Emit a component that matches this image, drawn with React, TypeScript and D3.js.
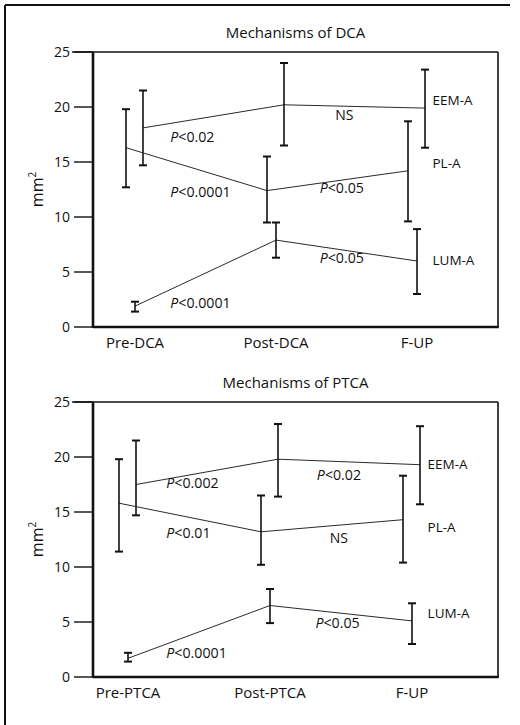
import React from "react";
import * as d3 from "d3";

// Time points and their axis labels
const stageIndex = [0, 1, 2];
const dcaStageLabels = ["Pre-DCA", "Post-DCA", "F-UP"];
const ptcaStageLabels = ["Pre-PTCA", "Post-PTCA", "F-UP"];
const yTicks = [0, 5, 10, 15, 20, 25];
const seriesNames = ["EEM-A", "PL-A", "LUM-A"];

// DCA: mean and error-bar limits (mm²)
const dcaEemMean = [18.1, 20.2, 19.9];
const dcaEemLow = [14.7, 16.5, 16.3];
const dcaEemHigh = [21.5, 24.0, 23.4];
const dcaPlMean = [16.3, 12.4, 14.2];
const dcaPlLow = [12.7, 9.5, 9.6];
const dcaPlHigh = [19.8, 15.5, 18.7];
const dcaLumMean = [1.9, 7.9, 6.0];
const dcaLumLow = [1.4, 6.3, 3.0];
const dcaLumHigh = [2.3, 9.5, 8.9];

// PTCA: mean and error-bar limits (mm²)
const ptcaEemMean = [17.5, 19.8, 19.3];
const ptcaEemLow = [14.7, 16.4, 15.7];
const ptcaEemHigh = [21.5, 23.0, 22.8];
const ptcaPlMean = [15.8, 13.2, 14.3];
const ptcaPlLow = [11.4, 10.2, 10.4];
const ptcaPlHigh = [19.8, 16.5, 18.3];
const ptcaLumMean = [1.7, 6.5, 5.1];
const ptcaLumLow = [1.4, 4.9, 3.0];
const ptcaLumHigh = [2.2, 8.0, 6.7];

// Significance of each interval, per series [EEM, PL, LUM]
const dcaPFirst = ["P<0.02", "P<0.0001", "P<0.0001"];
const dcaPSecond = ["NS", "P<0.05", "P<0.05"];
const ptcaPFirst = ["P<0.002", "P<0.01", "P<0.0001"];
const ptcaPSecond = ["P<0.02", "NS", "P<0.05"];

// Annotation anchors in data space (stage index, mm²), per series [EEM, PL, LUM]
const dcaPFirstAt = [[0.25, 16.8], [0.25, 11.8], [0.25, 1.7]];
const dcaPSecondAt = [[1.42, 18.8], [1.31, 12.2], [1.31, 5.8]];
const dcaNameAt = [[2.11, 20.2], [2.11, 14.5], [2.11, 5.6]];
const ptcaPFirstAt = [[0.27, 17.2], [0.27, 12.6], [0.27, 1.7]];
const ptcaPSecondAt = [[1.33, 17.9], [1.42, 12.2], [1.32, 4.5]];
const ptcaNameAt = [[2.11, 18.9], [2.11, 13.2], [2.11, 5.4]];

const FONT = "'Open Sans', 'DejaVu Sans', sans-serif";
const dodge = [8, -9, 0]; // horizontal offset of EEM, PL, LUM error bars

type Series = { mean: number[]; low: number[]; high: number[] };

function PValue({ text, x, y }: { text: string; x: number; y: number }) {
  if (text.startsWith("P")) {
    return (
      <text x={x} y={y} fontSize={14.2} fontFamily={FONT} fill="#111">
        <tspan fontStyle="italic">P</tspan>
        <tspan>{text.slice(1)}</tspan>
      </text>
    );
  }
  return (
    <text x={x} y={y} fontSize={14} fontFamily={FONT} fill="#111">
      {text}
    </text>
  );
}

function Panel(props: {
  title: string;
  stageLabels: string[];
  series: Series[];
  pFirst: string[];
  pSecond: string[];
  pFirstAt: number[][];
  pSecondAt: number[][];
  nameAt: number[][];
  top: number;
  xRange: [number, number];
}) {
  const left = 93;
  const right = 498;
  const top = props.top;
  const bottom = top + 275;
  const x = d3.scaleLinear().domain([0, 2]).range(props.xRange);
  const y = d3.scaleLinear().domain([0, 25]).range([bottom, top]);
  const line = d3
    .line<[number, number]>()
    .x((d) => d[0])
    .y((d) => d[1]);
  const cap = 4;

  return (
    <g>
      <text
        x={(left + right) / 2}
        y={top - 14}
        textAnchor="middle"
        fontSize={15}
        fontFamily={FONT}
        fill="#111"
      >
        {props.title}
      </text>

      {/* frame: thin top and right, heavy left and bottom axes */}
      <line x1={72} x2={right} y1={top} y2={top} stroke="#111" strokeWidth={1.6} />
      <line x1={right} x2={right} y1={top} y2={bottom} stroke="#111" strokeWidth={1.6} />
      <line x1={left} x2={left} y1={top} y2={bottom + 1} stroke="#111" strokeWidth={2.6} />
      <line x1={left} x2={right + 0.8} y1={bottom} y2={bottom} stroke="#111" strokeWidth={2.4} />

      {yTicks.map((t) => (
        <g key={t}>
          <line x1={74} x2={left} y1={y(t)} y2={y(t)} stroke="#111" strokeWidth={1.4} />
          <text
            x={70}
            y={y(t) + 5}
            textAnchor="end"
            fontSize={14}
            fontFamily={FONT}
            fill="#111"
          >
            {t}
          </text>
        </g>
      ))}

      <text
        transform={`translate(${43},${(top + bottom) / 2}) rotate(-90)`}
        textAnchor="middle"
        fontSize={16}
        fontFamily={FONT}
        fill="#111"
      >
        mm
        <tspan dy={-7} fontSize={10}>
          2
        </tspan>
      </text>

      {stageIndex.map((i) => (
        <text
          key={i}
          x={x(i)}
          y={bottom + 21}
          textAnchor="middle"
          fontSize={15}
          fontFamily={FONT}
          fill="#111"
        >
          {props.stageLabels[i]}
        </text>
      ))}

      {props.series.map((s, si) => {
        const pts: [number, number][] = stageIndex.map((i) => [x(i) + dodge[si], y(s.mean[i])]);
        return (
          <g key={si}>
            <path d={line(pts) || ""} fill="none" stroke="#2a2a2a" strokeWidth={1} />
            {stageIndex.map((i) => {
              const cx = x(i) + dodge[si];
              return (
                <g key={i}>
                  <line x1={cx} x2={cx} y1={y(s.high[i])} y2={y(s.low[i])} stroke="#111" strokeWidth={1.6} />
                  <line x1={cx - cap} x2={cx + cap} y1={y(s.high[i])} y2={y(s.high[i])} stroke="#111" strokeWidth={2} />
                  <line x1={cx - cap} x2={cx + cap} y1={y(s.low[i])} y2={y(s.low[i])} stroke="#111" strokeWidth={2} />
                </g>
              );
            })}
          </g>
        );
      })}

      {props.pFirst.map((p, k) => (
        <PValue key={"a" + k} text={p} x={x(props.pFirstAt[k][0])} y={y(props.pFirstAt[k][1])} />
      ))}
      {props.pSecond.map((p, k) => (
        <PValue key={"b" + k} text={p} x={x(props.pSecondAt[k][0])} y={y(props.pSecondAt[k][1])} />
      ))}
      {seriesNames.map((n, k) => (
        <text
          key={n}
          x={x(props.nameAt[k][0])}
          y={y(props.nameAt[k][1])}
          fontSize={13.5}
          fontFamily={FONT}
          fill="#111"
        >
          {n}
        </text>
      ))}
    </g>
  );
}

export default function App() {
  const dcaSeries: Series[] = [
    { mean: dcaEemMean, low: dcaEemLow, high: dcaEemHigh },
    { mean: dcaPlMean, low: dcaPlLow, high: dcaPlHigh },
    { mean: dcaLumMean, low: dcaLumLow, high: dcaLumHigh },
  ];
  const ptcaSeries: Series[] = [
    { mean: ptcaEemMean, low: ptcaEemLow, high: ptcaEemHigh },
    { mean: ptcaPlMean, low: ptcaPlLow, high: ptcaPlHigh },
    { mean: ptcaLumMean, low: ptcaLumLow, high: ptcaLumHigh },
  ];
  return (
    <div style={{ position: "absolute", left: 0, top: 0 }}>
      <svg width={520} height={725} style={{ display: "block", background: "#fff" }}>
        {/* outer border */}
        <line x1={5} x2={510} y1={5} y2={5} stroke="#111" strokeWidth={1.8} />
        <line x1={5} x2={5} y1={5} y2={725} stroke="#111" strokeWidth={2} />

        <Panel
          title="Mechanisms of DCA"
          stageLabels={dcaStageLabels}
          series={dcaSeries}
          pFirst={dcaPFirst}
          pSecond={dcaPSecond}
          pFirstAt={dcaPFirstAt}
          pSecondAt={dcaPSecondAt}
          nameAt={dcaNameAt}
          top={52}
          xRange={[135, 417]}
        />
        <Panel
          title="Mechanisms of PTCA"
          stageLabels={ptcaStageLabels}
          series={ptcaSeries}
          pFirst={ptcaPFirst}
          pSecond={ptcaPSecond}
          pFirstAt={ptcaPFirstAt}
          pSecondAt={ptcaPSecondAt}
          nameAt={ptcaNameAt}
          top={402}
          xRange={[128, 412]}
        />
      </svg>
    </div>
  );
}
